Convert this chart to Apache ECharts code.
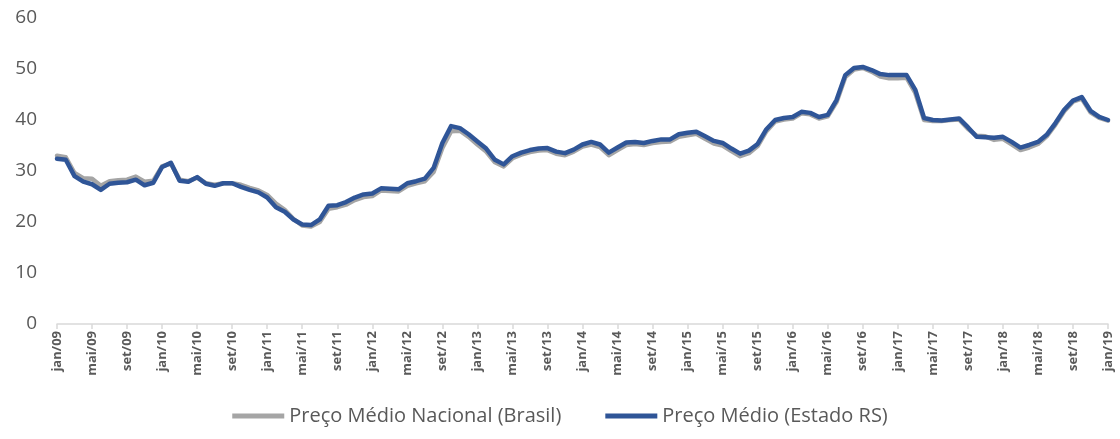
<!DOCTYPE html>
<html>
<head>
<meta charset="utf-8">
<title>Preço Médio</title>
<script src="https://cdn.jsdelivr.net/npm/echarts@6/dist/echarts.min.js"></script>
<style>
  html, body { margin: 0; padding: 0; background: #ffffff; }
  #chart { width: 1120px; height: 439px; }
</style>
</head>
<body>
<div id="chart"></div>
<script>
// Month abbreviations and the years covered (jan/09 .. jan/19, monthly)
const MONTHS = ['jan', 'fev', 'mar', 'abr', 'mai', 'jun', 'jul', 'ago', 'set', 'out', 'nov', 'dez'];
const YEARS = ['09', '10', '11', '12', '13', '14', '15', '16', '17', '18', '19'];

// Y axis ticks
const Y_MIN = 0;
const Y_MAX = 60;
const Y_STEP = 10;

// Series names
const NAME_NACIONAL = 'Preço Médio Nacional (Brasil)';
const NAME_RS = 'Preço Médio (Estado RS)';

// Preço médio nacional (Brasil), jan/09 .. jan/19
const nacional = [
  33.0, 32.7, 29.6, 28.6, 28.5, 27.1, 28.0, 28.2, 28.3, 28.9, 27.9, 28.1,
  30.9, 31.5, 28.3, 28.0, 28.7, 27.6, 27.3, 27.6, 27.6, 27.3, 26.7, 26.2,
  25.3, 23.6, 22.4, 20.6, 19.3, 19.1, 20.0, 22.6, 22.9, 23.4, 24.3, 24.9,
  25.1, 26.2, 26.1, 26.0, 27.1, 27.6, 28.0, 29.8, 34.5, 37.8, 37.9, 36.7,
  35.2, 33.8, 31.7, 30.9, 32.5, 33.2, 33.7, 34.0, 34.1, 33.4, 33.1, 33.8,
  34.8, 35.2, 34.7, 33.1, 34.1, 35.1, 35.3, 35.1, 35.5, 35.7, 35.8, 36.7,
  37.0, 37.3, 36.3, 35.4, 35.0, 33.9, 32.9, 33.5, 34.9, 37.8, 39.7, 40.1,
  40.3, 41.3, 41.1, 40.3, 40.7, 43.5, 48.4, 49.9, 50.2, 49.5, 48.5, 48.2,
  48.2, 48.3, 45.3, 40.0, 39.8, 39.8, 40.0, 40.1, 38.3, 36.9, 36.8, 36.1,
  36.3, 35.2, 34.1, 34.6, 35.3, 36.8, 39.1, 41.7, 43.6, 44.2, 41.5, 40.4,
  39.9
];

// Preço médio no estado do RS, jan/09 .. jan/19
const estadoRS = [
  32.4, 32.2, 29.0, 27.9, 27.4, 26.3, 27.5, 27.7, 27.8, 28.3, 27.2, 27.7,
  30.8, 31.6, 28.1, 27.9, 28.8, 27.5, 27.1, 27.6, 27.6, 26.9, 26.3, 25.8,
  24.8, 22.9, 22.0, 20.5, 19.5, 19.4, 20.5, 23.2, 23.3, 23.9, 24.8, 25.4,
  25.6, 26.6, 26.5, 26.4, 27.6, 28.0, 28.5, 30.6, 35.5, 38.8, 38.4, 37.2,
  35.8, 34.4, 32.2, 31.3, 32.9, 33.6, 34.1, 34.4, 34.5, 33.8, 33.5, 34.2,
  35.2, 35.7, 35.2, 33.6, 34.6, 35.6, 35.7, 35.5, 35.9, 36.2, 36.2, 37.2,
  37.5, 37.7, 36.8, 35.9, 35.5, 34.4, 33.4, 34.0, 35.3, 38.2, 40.0, 40.4,
  40.6, 41.6, 41.4, 40.6, 41.0, 43.9, 48.8, 50.2, 50.4, 49.8, 49.0, 48.8,
  48.8, 48.8, 45.9, 40.4, 40.0, 39.9, 40.1, 40.3, 38.6, 36.7, 36.6, 36.5,
  36.7, 35.7, 34.6, 35.1, 35.7, 37.1, 39.4, 42.0, 43.8, 44.5, 41.8, 40.6,
  40.0
];

// Category labels "mes/aa" from jan/09 up to jan/19
const categories = [];
YEARS.forEach(function (yy, yi) {
  MONTHS.forEach(function (m, mi) {
    if (yi === YEARS.length - 1 && mi > 0) return;
    categories.push(m + '/' + yy);
  });
});

const FONT = '"Open Sans", "Noto Sans", sans-serif';
const TEXT_COLOR = '#595959';

const chart = echarts.init(document.getElementById('chart'), null, { renderer: 'canvas' });

chart.setOption({
  animation: false,
  backgroundColor: '#ffffff',
  grid: { left: 57, right: 12, top: 18, bottom: 115, containLabel: false },
  legend: {
    left: 'center',
    top: 401,
    itemWidth: 52,
    itemHeight: 5,
    itemGap: 44,
    icon: 'rect',
    textStyle: { fontFamily: FONT, fontSize: 20, color: TEXT_COLOR },
    data: [NAME_NACIONAL, NAME_RS]
  },
  xAxis: {
    type: 'category',
    boundaryGap: false,
    data: categories,
    axisLine: { show: true, lineStyle: { color: '#D9D9D9', width: 1.5 } },
    axisTick: { show: true, interval: 3, length: 5, lineStyle: { color: '#D9D9D9', width: 1.5 } },
    axisLabel: {
      interval: 3,
      rotate: 90,
      margin: 7,
      fontFamily: FONT,
      fontSize: 13,
      fontWeight: 'bold',
      color: TEXT_COLOR
    },
    splitLine: { show: false }
  },
  yAxis: {
    type: 'value',
    min: Y_MIN,
    max: Y_MAX,
    interval: Y_STEP,
    axisLine: { show: false },
    axisTick: { show: false },
    splitLine: { show: false },
    axisLabel: {
      margin: 20,
      fontFamily: FONT,
      fontSize: 19,
      color: TEXT_COLOR
    }
  },
  series: [
    {
      name: NAME_NACIONAL,
      type: 'line',
      data: nacional,
      showSymbol: false,
      symbol: 'none',
      itemStyle: { color: '#A5A5A5' },
      lineStyle: { color: '#A5A5A5', width: 4.5, join: 'round', cap: 'round' },
      z: 2
    },
    {
      name: NAME_RS,
      type: 'line',
      data: estadoRS,
      showSymbol: false,
      symbol: 'none',
      itemStyle: { color: '#2F5597' },
      lineStyle: { color: '#2F5597', width: 4.5, join: 'round', cap: 'round' },
      z: 3
    }
  ]
});
</script>
</body>
</html>
